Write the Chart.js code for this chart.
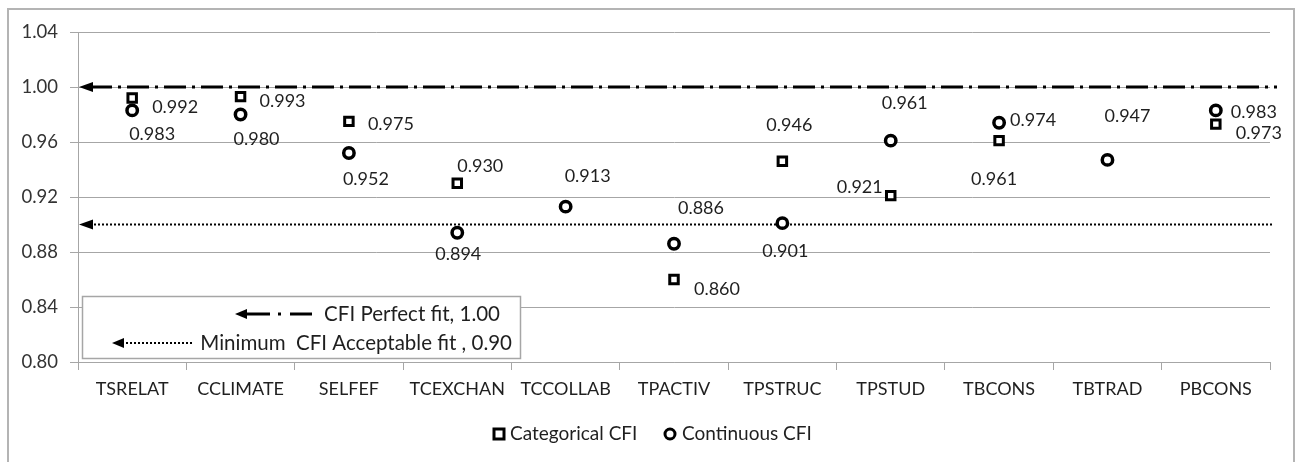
<!DOCTYPE html>
<html>
<head>
<meta charset="utf-8">
<script src="https://cdn.jsdelivr.net/npm/chart.js@4"></script>
<style>
body{margin:0;background:#fff;}
#wrap{position:relative;width:1308px;height:462px;}
</style>
</head>
<body>
<div id="wrap"><canvas id="grafica" width="1308" height="462"></canvas></div>
<script>
// DATOS
const categorias=['TSRELAT','CCLIMATE','SELFEF','TCEXCHAN','TCCOLLAB','TPACTIV','TPSTRUC','TPSTUD','TBCONS','TBTRAD','PBCONS'];
const categoricalCFI=[0.992,0.993,0.975,0.930,null,0.860,0.946,0.921,0.961,null,0.973];
const continuousCFI=[0.983,0.980,0.952,0.894,0.913,0.886,0.901,0.961,0.974,0.947,0.983];
const yTicks=[0.80,0.84,0.88,0.92,0.96,1.00,1.04];
const perfectFit=1.00;
const minAcceptable=0.90;

// donde va cada etiqueta respecto al punto (px)
const offCat=[[43,9],[42,5],[42,3],[23,-17],null,[43,10],[7,-36],[-31,-8],[-5,39],null,[43,9]];
const offCont=[[20,24],[16,25],[17,26],[1,21],[22,-30],[27,-36],[3,28],[14,-37],[34,-3],[20,-44],[38,2]];

const fuente='Lato, "Open Sans", sans-serif';
const colorTexto='#1f1f1f';

function flecha(ctx,x,y,len,h){
    ctx.beginPath();
    ctx.moveTo(x,y);
    ctx.lineTo(x+len,y-h);
    ctx.lineTo(x+len,y+h);
    ctx.closePath();
    ctx.fill();
}

function lineaPunteada(ctx,x1,x2,y,tipo){
    ctx.save();
    ctx.strokeStyle='#000';
    if(tipo==='dashdot'){
        ctx.lineWidth=3;
        ctx.setLineDash([22,6,3,6]);
    }else{
        ctx.lineWidth=2;
        ctx.setLineDash([2,2]);
    }
    ctx.beginPath();
    ctx.moveTo(x1,y);
    ctx.lineTo(x2,y);
    ctx.stroke();
    ctx.restore();
}

const extras={
    id:'extras',
    beforeDraw(chart){
        const ctx=chart.ctx;
        ctx.save();
        ctx.fillStyle='#fff';
        ctx.fillRect(0,0,chart.width,chart.height);
        ctx.strokeStyle='#b4b4b4';
        ctx.lineWidth=2;
        ctx.strokeRect(8,9,1286,470);
        ctx.restore();
    },
    beforeDatasetsDraw(chart){
        const ctx=chart.ctx;
        const a=chart.chartArea;
        const y=chart.scales.y;
        let y1=y.getPixelForValue(perfectFit);
        let y2=y.getPixelForValue(minAcceptable);
        ctx.save();
        lineaPunteada(ctx,a.left+12,a.right+7,y1,'dashdot');
        lineaPunteada(ctx,a.left+12,a.right+2,y2,'dot');
        ctx.fillStyle='#000';
        flecha(ctx,a.left+1,y1,14,5);
        flecha(ctx,a.left+1,y2,14,5);
        ctx.restore();
    },
    afterDatasetsDraw(chart){
        const ctx=chart.ctx;
        ctx.save();
        // etiquetas de datos
        ctx.font='18px '+fuente;
        ctx.fillStyle=colorTexto;
        ctx.textAlign='center';
        ctx.textBaseline='middle';
        [[0,categoricalCFI,offCat],[1,continuousCFI,offCont]].forEach(([i,vals,offs])=>{
            let meta=chart.getDatasetMeta(i);
            meta.data.forEach((p,j)=>{
                if(vals[j]===null||!offs[j])return;
                ctx.fillText(vals[j].toFixed(3),p.x+offs[j][0],p.y+offs[j][1]);
            });
        });

        // cuadro de lineas de referencia
        ctx.fillStyle='#fff';
        ctx.fillRect(82,296,439,62);
        ctx.strokeStyle='#a6a6a6';
        ctx.lineWidth=1.5;
        ctx.strokeRect(82.5,296.5,438,62);

        ctx.fillStyle='#000';
        flecha(ctx,235,314,12,5);
        ctx.save();
        ctx.lineWidth=3;
        ctx.strokeStyle='#000';
        ctx.beginPath();ctx.moveTo(245,314);ctx.lineTo(270,314);ctx.stroke();
        ctx.beginPath();ctx.moveTo(278,314);ctx.lineTo(281,314);ctx.stroke();
        ctx.beginPath();ctx.moveTo(290,314);ctx.lineTo(312,314);ctx.stroke();
        ctx.restore();
        flecha(ctx,112,343,12,5);
        lineaPunteada(ctx,122,193,343,'dot');

        ctx.fillStyle=colorTexto;
        ctx.font='20.5px '+fuente;
        ctx.textAlign='right';
        ctx.fillText('CFI Perfect fit, 1.00',500,314);
        ctx.fillText('Minimum  CFI Acceptable fit , 0.90',512,343);

        // leyenda
        ctx.font='19px '+fuente;
        ctx.textAlign='left';
        ctx.strokeStyle='#000';
        ctx.lineWidth=3;
        ctx.strokeRect(494,429,10,10);
        ctx.fillText('Categorical CFI',510,434);
        ctx.beginPath();
        ctx.arc(670,434,5,0,Math.PI*2);
        ctx.stroke();
        ctx.fillText('Continuous CFI',682,434);
        ctx.restore();
    }
};

window.onload=function(){
    const ctx=document.getElementById("grafica");
    new Chart(ctx,{
        type:'line',
        data:{
            labels:categorias,
            datasets:[{
                label:'Categorical CFI',
                data:categoricalCFI,
                showLine:false,
                pointStyle:'rect',
                pointRadius:6,
                pointBorderWidth:3,
                pointBorderColor:'#000',
                pointBackgroundColor:'#fff',
                order:2
            },{
                label:'Continuous CFI',
                data:continuousCFI,
                showLine:false,
                pointStyle:'circle',
                pointRadius:5.2,
                pointBorderWidth:3.5,
                pointBorderColor:'#000',
                pointBackgroundColor:'#fff',
                order:1
            }]
        },
        options:{
            responsive:false,
            animation:false,
            layout:{padding:{left:0,top:32,right:38,bottom:0}},
            plugins:{legend:{display:false},tooltip:{enabled:false}},
            scales:{
                x:{
                    offset:true,
                    grid:{display:true,drawOnChartArea:false,offset:true,tickLength:8,color:'#a6a6a6'},
                    border:{color:'#a6a6a6'},
                    ticks:{font:{family:fuente,size:18},color:colorTexto,padding:8,maxRotation:0,autoSkip:false},
                    afterFit(s){s.height=100;}
                },
                y:{
                    min:0.80,max:1.04,
                    afterBuildTicks(s){s.ticks=yTicks.map(v=>({value:v}));},
                    grid:{color:'#a6a6a6',tickLength:8},
                    border:{color:'#a6a6a6'},
                    ticks:{font:{family:fuente,size:18.5},color:'#333',padding:12,callback:v=>v.toFixed(2)},
                    afterFit(s){s.width=78;}
                }
            }
        },
        plugins:[extras]
    });
};
</script>
</body>
</html>
